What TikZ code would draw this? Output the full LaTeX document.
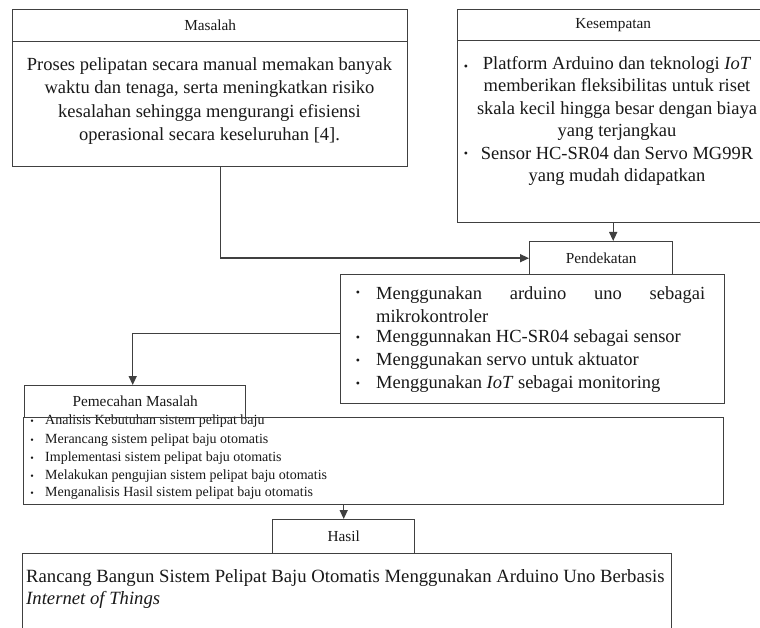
\documentclass[tikz,border=0pt]{standalone}
\usepackage{fontspec}
\setmainfont{Liberation Serif}
\usetikzlibrary{arrows.meta,positioning}

\tikzset{
  box/.style={draw=black!75, line width=1.4pt, rectangle, anchor=north west, inner sep=0pt},
  head/.style={box, font=\fontsize{15.3}{18}\selectfont, text=black!90},
  btext/.style={font=\fontsize{18.5}{22.5}\selectfont, text=black!90, inner sep=0pt},
  stext/.style={font=\fontsize{14}{17}\selectfont, text=black!90, inner sep=0pt},
  bul/.style={font=\fontsize{12}{12}\selectfont, text=black!90, inner sep=0pt},
  arr/.style={draw=black!75, line width=1.4pt, -{Triangle[length=9pt,width=8pt]}},
}

\begin{document}
\begin{tikzpicture}[x=1pt,y=-1pt]
            \clip (0,0) rectangle (760,628);
            \fill[white] (0,0) rectangle (760,628);
            % Masalah
            \node[head, minimum width=395pt, minimum height=32pt] (mhead) at (12,9) {Masalah};
            \node[box, minimum width=395pt, minimum height=125pt] (mbody) at (12,41) {};
            \node[btext, align=center, font=\fontsize{18.5}{23.5}\selectfont] (mtext) at (209.5,101) {Proses pelipatan secara manual memakan banyak\\
                waktu dan tenaga, serta meningkatkan risiko\\
                kesalahan sehingga mengurangi efisiensi\\
                operasional secara keseluruhan [4].};
            % Kesempatan
            \node[head, minimum width=311pt, minimum height=31pt] (khead) at (457,9) {Kesempatan};
            \node[box, minimum width=311pt, minimum height=182pt] (kbody) at (457,40) {};
            \node[btext, align=center] (ktext) at (617,121) {Platform Arduino dan teknologi \textit{IoT}\\
                memberikan fleksibilitas untuk riset\\
                skala kecil hingga besar dengan biaya\\
                yang terjangkau\\
                Sensor HC-SR04 dan Servo MG99R\\
                yang mudah didapatkan};
            \node[bul] (kb1) at (466,68) {•};
            \node[bul] (kb2) at (466,155) {•};
            % Pendekatan
            \node[head, minimum width=143pt, minimum height=33pt] (phead) at (529,241) {Pendekatan};
            \node[box, minimum width=384pt, minimum height=129pt] (pbody) at (340,274) {};
            \node[btext, anchor=west, align=left] (p1) at (376,304.5) {\makebox[329pt][s]{Menggunakan arduino uno sebagai}\\mikrokontroler};
            \node[btext, anchor=west] (p2) at (376,338) {Menggunnakan HC-SR04 sebagai sensor};
            \node[btext, anchor=west] (p3) at (376,361) {Menggunakan servo untuk aktuator};
            \node[btext, anchor=west] (p4) at (376,384) {Menggunakan \textit{IoT} sebagai monitoring};
            \foreach \y [count=\i] in {294,339,362,385}{
                    \node[bul] (pb\i) at (358,\y) {•};
                }
            % Pemecahan Masalah
            \foreach \y/\t [count=\i] in {421/Analisis Kebutuhan sistem pelipat baju,
                    440/Merancang sistem pelipat baju otomatis,
                    458/Implementasi sistem pelipat baju otomatis,
                    476/Melakukan pengujian sistem pelipat baju otomatis,
                    493/Menganalisis Hasil sistem pelipat baju otomatis}{
                    \node[stext, anchor=west] (s\i) at (45,\y) {\t};
                    \node[bul, font=\fontsize{10}{10}\selectfont] (sb\i) at (32,\y+1) {•};
                }
            \node[head, minimum width=221pt, minimum height=32pt] (shead) at (24,385) {Pemecahan Masalah};
            \node[box, minimum width=700pt, minimum height=87pt] (sbody) at (23,417) {};
            % Hasil
            \node[head, minimum width=142pt, minimum height=34pt] (hhead) at (272,519) {Hasil};
            \node[box, minimum width=649pt, minimum height=100pt] (hbody) at (22,553) {};
            \node[btext, anchor=west, align=left, font=\fontsize{18.7}{22}\selectfont] (htext) at (26,589) {Rancang Bangun Sistem Pelipat Baju Otomatis Menggunakan Arduino Uno Berbasis\\
                \textit{Internet of Things}};
            % arrows
            \draw[arr] ([xshift=10.5pt]mbody.south) |- (phead.west);
            \draw[arr] (kbody.south) -- (kbody.south |- phead.north);
            \draw[arr] ([yshift=5.5pt]pbody.west) -| ([xshift=-2.5pt]shead.north);
            \draw[arr] (hhead.north |- sbody.south) -- (hhead.north);
        \end{tikzpicture}
\end{document}
